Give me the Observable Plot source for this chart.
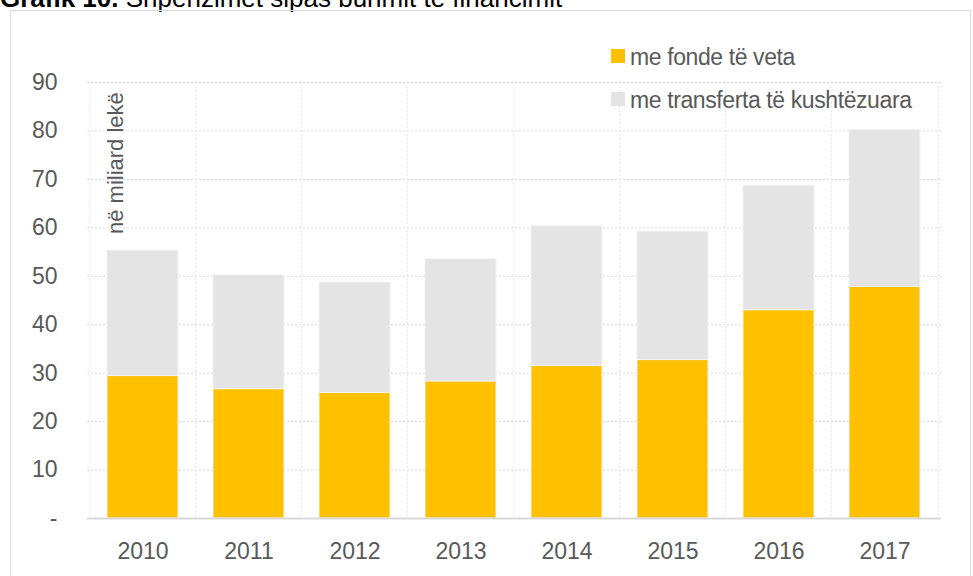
<!DOCTYPE html>
<html>
<head>
<meta charset="utf-8">
<script src="https://cdn.jsdelivr.net/npm/d3@7"></script>
<script src="https://cdn.jsdelivr.net/npm/@observablehq/plot@0.6"></script>
<style>
  html, body { margin: 0; padding: 0; background: #fff; }
  #wrap { position: relative; width: 973px; height: 576px; overflow: hidden; font-family: "Liberation Sans Narrow", "Arial Narrow", "Liberation Sans", sans-serif; }
  #title { position: absolute; left: 0; top: -17px; font-family: "Liberation Sans", Arial, sans-serif; font-size: 26px; line-height: 30px; color: #000; white-space: nowrap; }
  #frame { position: absolute; left: 10px; top: 10px; width: 961px; height: 600px; border: 1px solid #d9d9d9; box-sizing: border-box; }
  #chart { position: absolute; left: 0; top: 0; }
  .leg { position: absolute; left: 611px; font-size: 23px; letter-spacing: -0.4px; color: #595959; white-space: nowrap; }
  .leg span.sw { display: inline-block; width: 14px; height: 14px; margin-right: 5px; vertical-align: 2px; }
</style>
</head>
<body>
<div id="wrap">
  <div id="title"><b>Grafik 10.</b> Shpenzimet sipas burimit të financimit</div>
  <div id="frame"></div>
  <div id="chart"></div>
  <div class="leg" style="top:44px"><span class="sw" style="background:#FFC000"></span>me fonde të veta</div>
  <div class="leg" style="top:87px"><span class="sw" style="background:#E4E4E4"></span>me transferta të kushtëzuara</div>
</div>
<script>
const years = ["2010","2011","2012","2013","2014","2015","2016","2017"];
const ownFunds = [29.4, 26.7, 25.9, 28.3, 31.5, 32.7, 43.0, 47.8];
const transfers = [25.9, 23.5, 22.8, 25.2, 28.8, 26.5, 25.7, 32.4];
const seriesNames = ["me fonde të veta", "me transferta të kushtëzuara"];
const seriesColors = ["#FFC000", "#E4E4E4"];
const yTicks = [0, 10, 20, 30, 40, 50, 60, 70, 80, 90];
const unitLabel = "në miliard lekë";

const rows = [];
years.forEach((y, i) => {
  rows.push({year: y, series: seriesNames[0], value: ownFunds[i]});
  rows.push({year: y, series: seriesNames[1], value: transfers[i]});
});

const W = 973, H = 576, mL = 87, mR = 32, mT = 82, mB = 58;
const step = (W - mL - mR) / years.length;

const plot = Plot.plot({
  width: W, height: H,
  marginLeft: mL, marginRight: mR, marginTop: mT, marginBottom: mB,
  style: {fontFamily: '"Liberation Sans Narrow", "Arial Narrow", "Liberation Sans", sans-serif', fontSize: "23px", color: "#595959", background: "transparent"},
  x: {domain: years, paddingInner: 0.33, paddingOuter: 0.165, label: null},
  y: {domain: [0, 90], label: null},
  color: {domain: seriesNames, range: seriesColors},
  marks: [
    Plot.ruleY(yTicks.filter(d => d > 0), {stroke: "#d9d9d9", strokeDasharray: "2,2", strokeWidth: 1}),
    Plot.ruleX(years, {x: d => d, dx: -step / 2, stroke: "#e6e6e6", strokeDasharray: "2,2", strokeWidth: 1}),
    Plot.ruleX([years[years.length - 1]], {x: d => d, dx: step / 2, stroke: "#e6e6e6", strokeDasharray: "2,2", strokeWidth: 1}),
    Plot.barY(rows, Plot.stackY({x: "year", y: "value", fill: "series", order: seriesNames, stroke: "#f2f2f2", strokeWidth: 1})),
    Plot.ruleY([0], {stroke: "#d9d9d9", strokeWidth: 2}),
    Plot.axisY({ticks: yTicks, tickSize: 0, tickPadding: 30, tickFormat: d => d === 0 ? "-" : String(d), fill: "#595959", fontSize: 23}),
    Plot.axisX({tickSize: 0, tickPadding: 24, fill: "#595959", fontSize: 23}),
    Plot.text([unitLabel], {x: () => years[0], y: () => 88, rotate: -90, textAnchor: "end", dx: -27, fill: "#595959", fontSize: 22, letterSpacing: "-0.3px"})
  ]
});
document.getElementById("chart").appendChild(plot);
</script>
</body>
</html>
